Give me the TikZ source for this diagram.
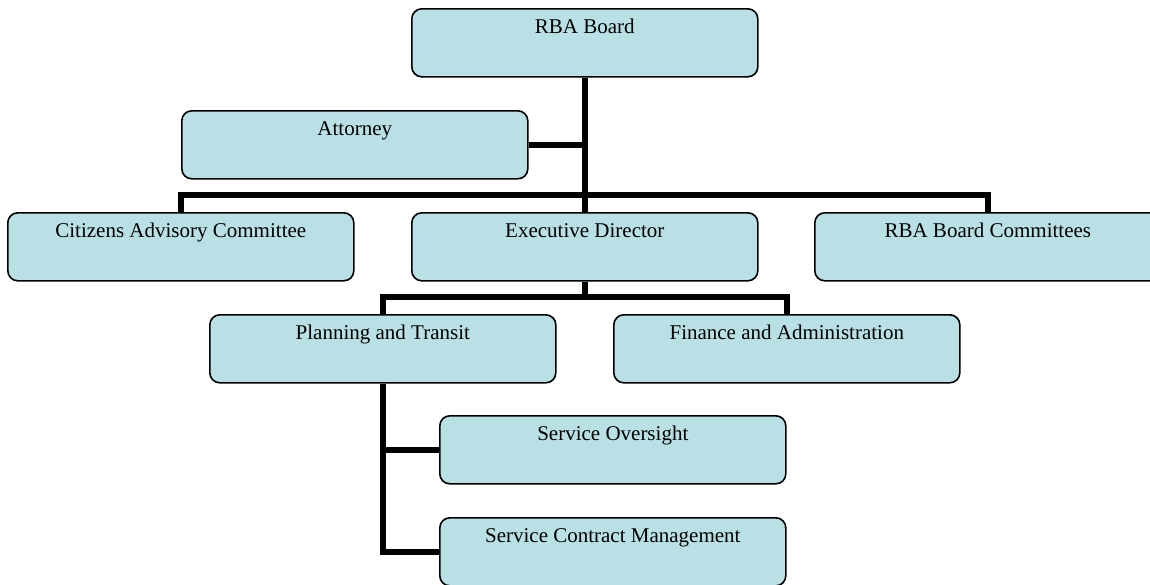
\documentclass[tikz,border=0pt]{standalone}
\usepackage{fontspec}
\setmainfont{Liberation Serif}
\definecolor{boxfill}{RGB}{185,224,228}
\tikzset{
  orgbox/.style={draw=black, fill=boxfill, line width=1.6pt, rounded corners=10pt,
    minimum width=346pt, inner sep=0pt, text height=25pt, text depth=43pt,
    anchor=north west, font=\fontsize{21}{25}\selectfont},
  link/.style={draw=black, line width=5.5pt, line join=miter}
}
\begin{document}
\begin{tikzpicture}[x=1pt,y=-1pt]
\useasboundingbox (0,0) rectangle (1150,584);
\clip (0,0) rectangle (1150,584);
\node[orgbox] (rba) at (411,8) {RBA Board};
\node[orgbox] (att) at (181,110) {Attorney};
\node[orgbox] (cac) at (7,212) {Citizens Advisory Committee};
\node[orgbox] (ed) at (411,212) {Executive Director};
\node[orgbox] (rbc) at (814,212) {RBA Board Committees};
\node[orgbox] (pt) at (209,314) {Planning and Transit};
\node[orgbox] (fa) at (613,314) {Finance and Administration};
\node[orgbox] (so) at (439,415) {Service Oversight};
\node[orgbox] (scm) at (439,517) {Service Contract Management};
\coordinate (j1) at (rba.south |- 0,195);
\coordinate (j2) at (ed.south |- 0,297);
\draw[link] (rba.south) -- (j1);
\draw[link] (att.east) -- (att.east -| rba.south);
\draw[link] (cac.north) |- (j1) -| (rbc.north);
\draw[link] (j1) -- (ed.north);
\draw[link] (ed.south) -- (j2);
\draw[link] (pt.north) |- (j2) -| (fa.north);
\draw[link] (pt.south) |- (so.west);
\draw[link] (pt.south) |- (scm.west);
\end{tikzpicture}
\end{document}
